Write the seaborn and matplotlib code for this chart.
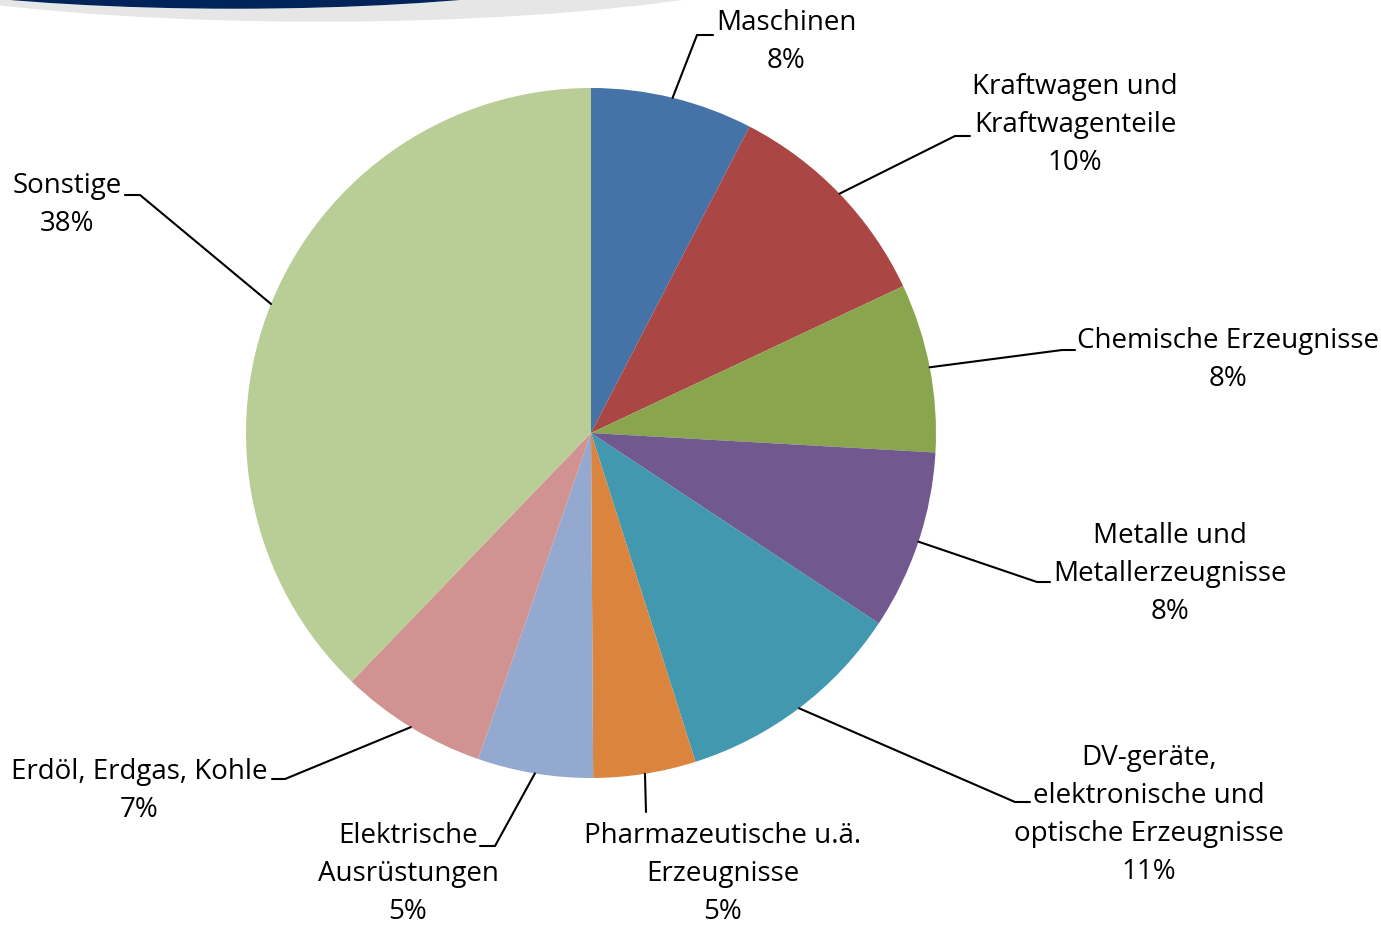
import matplotlib
matplotlib.use("Agg")
import matplotlib.pyplot as plt
import seaborn as sns
import numpy as np
from matplotlib.patches import Ellipse

branchen = ["Maschinen", "Kraftwagen und\nKraftwagenteile", "Chemische Erzeugnisse",
            "Metalle und\nMetallerzeugnisse", "DV-geräte,\nelektronische und\noptische Erzeugnisse",
            "Pharmazeutische u.ä.\nErzeugnisse", "Elektrische\nAusrüstungen",
            "Erdöl, Erdgas, Kohle", "Sonstige"]
anteile = [7.6, 10.4, 7.9, 8.4, 10.8, 4.8, 5.4, 6.9, 37.8]
farben = ["#4572A7", "#AA4643", "#89A54E", "#71588F", "#4198AF",
          "#DB843D", "#93A9CF", "#D19392", "#B9CD96"]

sns.set_style("white")
plt.rcParams["font.family"] = ["Open Sans", "DejaVu Sans"]

fig = plt.figure(figsize=(13.81, 9.28), dpi=100)
ax = fig.add_axes([0, 0, 1, 1])

# banner at top
ax.add_patch(Ellipse((320, -62), 1080, 168, color="#E6E6E6", zorder=0))
ax.add_patch(Ellipse((235, -51), 866, 120, color="#00245A", zorder=1))

cx, cy, r = 591, 434, 345
ax.pie(anteile, colors=farben, startangle=-90, counterclock=True,
       center=(cx, cy), radius=r, wedgeprops=dict(linewidth=0), frame=True)
ax.set_xlim(0, 1381)
ax.set_ylim(928, 0)
ax.set_aspect("equal")
ax.axis("off")

# (elbow x, elbow y, end x, text x, text y)
layout = [
    (697, 36, 713, 786, 42),
    (955, 137, 970, 1075, 125),
    (1062, 351, 1075, 1228, 360),
    (1037, 583, 1050, 1170, 574),
    (1015, 803, 1030, 1149, 815),
    (646, 813, 646, 723, 874),
    (495, 847, 480, 408, 874),
    (285, 780, 272, 139, 791),
    (140, 196, 125, 67, 205),
]

cum = np.cumsum([0] + anteile)
for i, (name, val) in enumerate(zip(branchen, anteile)):
    mid = (cum[i] + val / 2) / 100
    th = np.deg2rad(-90 + 360 * mid)
    sx, sy = cx + r * np.cos(th), cy + r * np.sin(th)
    ex, ey, hx, tx, ty = layout[i]
    ax.plot([sx, ex, hx], [sy, ey, ey], color="black", lw=1.5, zorder=5)
    ax.text(tx, ty, f"{name}\n{round(val):.0f}%", ha="center", va="center",
            fontsize=20, linespacing=1.48, color="black")

fig.savefig("out.png", dpi=100)
